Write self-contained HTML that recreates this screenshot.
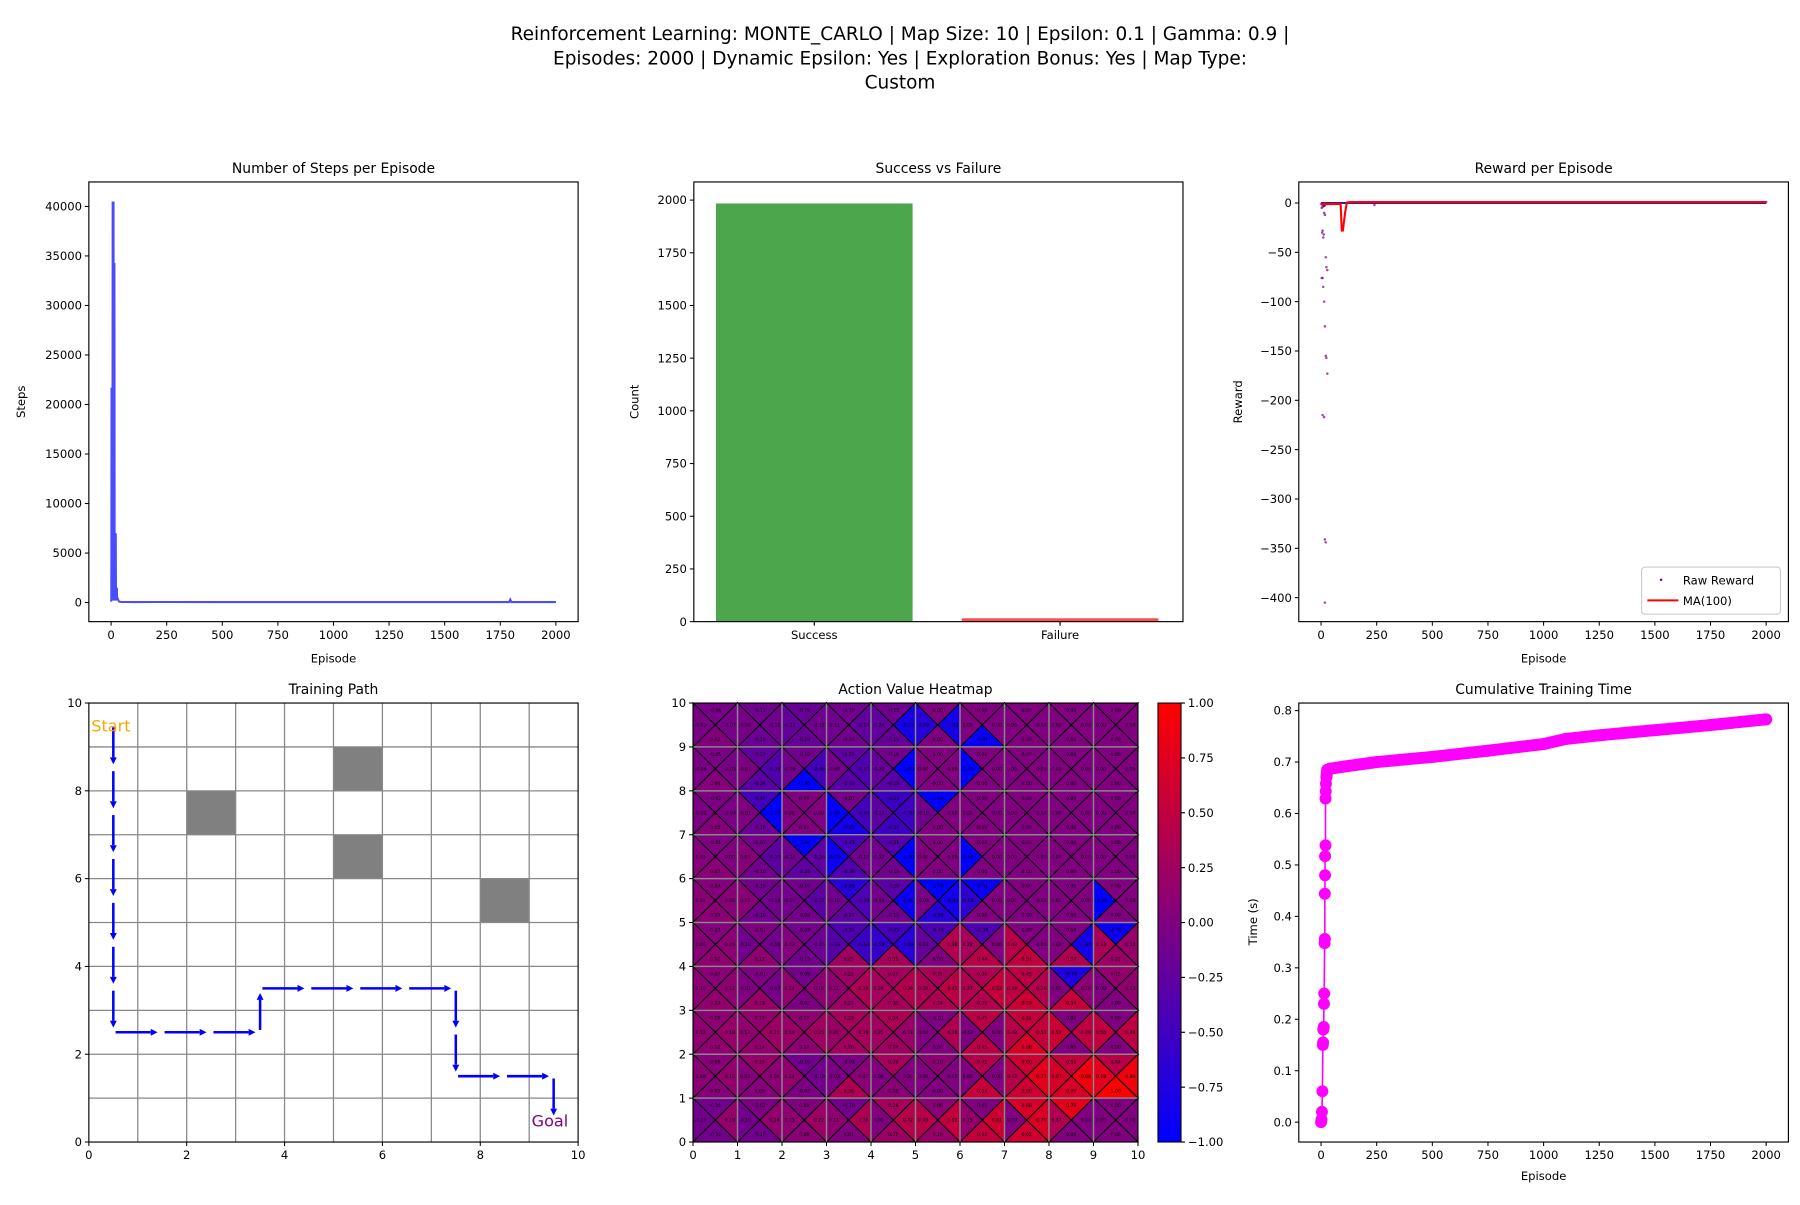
<!DOCTYPE html>
<html><head><meta charset="utf-8">
<style>
html,body{margin:0;padding:0;background:#fff;overflow:hidden;}
svg text{font-family:"DejaVu Sans","Liberation Sans",sans-serif;}
</style></head>
<body>
<svg id="fig" xmlns="http://www.w3.org/2000/svg" width="1800" height="1200" viewBox="0 0 1568 1045.3" preserveAspectRatio="none">
<rect x="0" y="0" width="1568" height="1046" fill="#fff"/>
<g font-size="16.1" text-anchor="middle" fill="#000">
<text x="784" y="35">Reinforcement Learning: MONTE_CARLO | Map Size: 10 | Epsilon: 0.1 | Gamma: 0.9 |</text>
<text x="784" y="56">Episodes: 2000 | Dynamic Epsilon: Yes | Exploration Bonus: Yes | Map Type:</text>
<text x="784" y="77">Custom</text>
</g>
</svg>
<script>
// ---------- data ----------
const stepsEp = [0,1,2,3,4,5,6,7,8,9,10,11,12,13,14,15,16,17,18,19,20,21,22,23,24,25,26,27,28,30,33,36,40,45,50,100,200,500,1000,1500,1790,1795,1800,2000];
const stepsVal = [100,300,21700,500,21700,800,200,40500,300,40500,600,40500,400,34300,200,34300,500,3000,200,7000,300,7000,200,1500,400,300,1500,400,400,400,200,100,80,60,60,50,60,50,50,50,50,300,50,50];

const outcomeLabels = ["Success","Failure"];
const outcomeCounts = [1984,16];

const rawEp = [1,3,5,7,10,12,14,17,21,24,28,3,7,10,14,17,21,24,28,7,14,17,21,17,12,7,14,14,7,7,10,17,14,14,30,40,50,70,240,2000];
const rawReward = [-1,-5,-30,-28,-35,-32,-10,-12,-55,-65,-68,-76,-76,-85,-100,-125,-155,-157,-173,-215,-217,-341,-344,-405,-2,-1,-3,-1,-2,-4,-1,-2,-1,-3,-1,-1,-1,-1,-2,1];
const maEp = [0,88,93,98,108,116,130,2000];
const maVal = [-1,-1,-28,-28,-10,0.5,1,1];
const rawLineEp = [0,2000];
const rawLineVal = [0,0];

const timeEp = [0,2,4,6,8,9,10,12,13,14,16,17,17,18,18,20,20,21,22,24,28,40,100,250,500,750,1000,1100,1250,1500,1750,2000];
const timeVal = [0,0.005,0.02,0.06,0.15,0.155,0.18,0.185,0.23,0.25,0.348,0.356,0.444,0.48,0.517,0.538,0.629,0.643,0.658,0.671,0.685,0.687,0.691,0.70,0.71,0.722,0.735,0.745,0.752,0.762,0.772,0.783];

const obstacles = [[2,7],[5,8],[5,6],[8,5]];
const pathX = [0.5,0.5,0.5,0.5,0.5,0.5,0.5,0.5,1.5,2.5,3.5,3.5,4.5,5.5,6.5,7.5,7.5,7.5,8.5,9.5,9.5];
const pathY = [9.5,8.5,7.5,6.5,5.5,4.5,3.5,2.5,2.5,2.5,2.5,3.5,3.5,3.5,3.5,3.5,2.5,1.5,1.5,1.5,0.5];

// Q values, rows from y=9 (top) to y=0
const qUp = [
[-0.06,-0.11,-0.19,-0.10,-0.12,0,0,0,0,0],
[-0.05,-0.23,-0.10,-0.25,-0.10,0,0,0,0,0],
[-0.02,-0.46,0,-0.07,-0.53,-1.00,0,0,0,0],
[-0.01,-0.07,-1.00,-0.43,-0.31,0,0,0,0,0],
[0.04,-0.10,-0.10,-0.69,-0.29,-1.00,-0.91,0,0,0],
[0.03,-0.01,-0.09,-0.38,-0.45,-0.40,-0.38,0,0,-0.91],
[0.07,-0.01,-0.09,0.22,0.27,0.31,0.36,0.45,-0.76,0.15],
[0.10,0.15,0.12,0.29,0.34,-0.01,0.45,0.52,0,0],
[0.06,0.18,-0.10,-0.03,0.29,0.10,0.41,0.60,0.52,0.44],
[-0.10,-0.02,0,-0.10,0.28,0.08,0,0.68,0.79,0]];
const qLeft = [
[-0.05,-0.06,-0.21,-0.11,-0.24,-0.69,0,0,0,0],
[-0.04,-0.02,-0.09,-0.09,-0.20,0,-1.00,0,0,0],
[-0.03,-0.01,0,-1.00,-0.27,-0.10,0,0,0,0],
[0.03,0.05,-0.10,-0.91,-0.10,0,-1.00,0,0,0],
[0.07,0.07,-0.09,-0.10,-0.09,-0.04,-0.63,0,0,-1.00],
[0.06,-0.10,0.03,-0.33,-0.58,-0.21,0.28,0.43,0,0.33],
[0.10,-0.01,0.14,0.11,0.29,0.34,0.37,0.48,0,0],
[0.12,0.13,0.19,0.20,0.25,0,-0.02,0.42,0.59,0.50],
[0.09,0.04,0.14,-0.03,0,0,0,0.42,0.67,0.78],
[-0.10,-0.10,0.11,0.11,0,0.43,0.15,0,0.37,0]];
const qRight = [
[-0.07,-0.11,-0.12,-0.24,-0.83,-0.83,0,0,0,0],
[-0.05,-0.36,-0.46,-0.37,-1.00,0,0,0,0,0],
[-0.04,-1.00,0,-0.46,-0.50,0,0,0,0,0],
[0,-0.27,-0.26,-0.10,-1.00,0,0,0,0,0],
[0.06,-0.10,-0.27,-0.39,-0.91,-0.83,0,0,0,0],
[0.09,-0.10,-0.15,-0.53,-0.69,0.38,0,0,-0.83,0.18],
[0.12,-0.07,0.10,0.34,0.39,0.45,0.52,0.39,0.10,0.13],
[0.18,0.21,0.25,0.29,0.18,0.36,0,0.53,0.48,0.48],
[0.15,0.09,-0.10,0.07,0,0,0,0.77,0.88,0.89],
[0.16,0.14,0.22,0.36,0.42,0.52,0.61,0.70,0,0]];
const qDown = [
[0.02,-0.16,-0.19,-0.10,-0.19,0,-0.91,0,0,0],
[0.04,-0.29,-1.00,-0.31,-0.29,0,0,0,0,0],
[0.05,-0.16,0,-0.83,-0.50,0,0,0,0,0],
[0.07,-0.10,-0.26,-0.36,-0.10,0,0,0,0,0],
[0.09,-0.10,-0.09,-0.25,-0.10,-0.69,0,0,0,0],
[0.12,0.12,-0.10,0.25,0.31,0,0.44,0.51,0.37,0.21],
[0.14,0.18,-0.02,0.22,0.30,0.34,0.39,0.59,0.54,0],
[0.12,0.14,0.10,0.26,0.24,0,0.45,0.68,0,0],
[0.05,0.05,-0.02,0.36,0.08,0,0.54,0.60,0.69,1.00],
[-0.10,-0.10,0.08,0.01,0.21,0.19,0.52,0.62,0,0]];

const epTicks = [0,250,500,750,1000,1250,1500,1750,2000];
const stepTicks = [0,5000,10000,15000,20000,25000,30000,35000,40000];
const countTicks = [0,250,500,750,1000,1250,1500,1750,2000];
const rewardTicks = [0,-50,-100,-150,-200,-250,-300,-350,-400];
const timeTicks = [0,0.1,0.2,0.3,0.4,0.5,0.6,0.7,0.8];
const gridTicks = [0,2,4,6,8,10];
const heatTicks = [0,1,2,3,4,5,6,7,8,9,10];
const cbarTicks = [1,0.75,0.5,0.25,0,-0.25,-0.5,-0.75,-1];

// ---------- helpers ----------
const NS = "http://www.w3.org/2000/svg";
const fig = document.getElementById('fig');
function mk(parent, tag, attrs, name, inter) {
  const e = document.createElementNS(NS, tag);
  for (const k in attrs) e.setAttribute(k, attrs[k]);
  
  
  parent.appendChild(e);
  return e;
}
function txt(parent, x, y, s, name, opts) {
  const o = Object.assign({'font-size': 10.1, 'text-anchor': 'middle', fill: '#000'}, opts || {});
  o.x = x; o.y = y;
  const t = mk(parent, 'text', o, name, false);
  t.textContent = s;
  return t;
}
function lin(d0, d1, p0, p1) { return v => p0 + (v - d0) * (p1 - p0) / (d1 - d0); }
function panel(name, L, R, T, B, title) {
  const g = mk(fig, 'g', {}, name, false);
  txt(g, (L + R) / 2, T - 8, title, name + '-title', {'font-size': 12.1});
  return g;
}
function frame(g, name, L, R, T, B) {
  mk(g, 'rect', {x: L, y: T, width: R - L, height: B - T, fill: 'none', stroke: '#000', 'stroke-width': 1}, name + '-frame', false);
}
function xTicks(g, name, ticks, sx, B, fmt) {
  ticks.forEach(v => {
    const x = sx(v);
    mk(g, 'line', {x1: x, x2: x, y1: B, y2: B + 3.5, stroke: '#000', 'stroke-width': 0.9}, name + '-xtick', false);
    txt(g, x, B + 15, fmt ? fmt(v) : String(v), name + '-xtick-label');
  });
}
function yTicks(g, name, ticks, sy, L, fmt) {
  ticks.forEach(v => {
    const y = sy(v);
    mk(g, 'line', {x1: L - 3.5, x2: L, y1: y, y2: y, stroke: '#000', 'stroke-width': 0.9}, name + '-ytick', false);
    txt(g, L - 6, y + 3.6, fmt ? fmt(v) : String(v), name + '-ytick-label', {'text-anchor': 'end'});
  });
}
function minus(v) { return String(v).replace('-', '\u2212'); }
function ylabel(g, name, x, y, s) {
  txt(g, x, y, s, name, {transform: 'rotate(-90 ' + x + ' ' + y + ')'});
}

const TT = 158.5, TB = 541.5, BT = 612.4, BB = 994.8;
const C1L = 77.4, C1R = 503.6, C2L = 604.4, C2R = 1030.5, C3L = 1131.4, C3R = 1557.9;

// ---------- Panel 1: steps ----------
(function () {
  const L = C1L, R = C1R, T = TT, B = TB;
  const g = panel('steps-chart', L, R, T, B, 'Number of Steps per Episode');
  const sx = lin(-100, 2100, L, R), sy = lin(-1926, 42470, B, T);
  const pts = stepsEp.map((e, i) => sx(e).toFixed(2) + ',' + sy(stepsVal[i]).toFixed(2)).join(' ');
  mk(g, 'polyline', {points: pts, fill: 'none', stroke: 'blue', 'stroke-opacity': 0.7, 'stroke-width': 1.8}, 'steps-line', false);
  frame(g, 'steps', L, R, T, B);
  xTicks(g, 'steps', epTicks, sx, B);
  yTicks(g, 'steps', stepTicks, sy, L);
  txt(g, (L + R) / 2, 577, 'Episode', 'steps-x-axis-title');
  ylabel(g, 'steps-y-axis-title', 22, 350, 'Steps');
})();

// ---------- Panel 2: success vs failure ----------
(function () {
  const L = C2L, R = C2R, T = TT, B = TB;
  const g = panel('outcome-chart', L, R, T, B, 'Success vs Failure');
  const sx = lin(-0.49, 1.5, L, R), sy = lin(0, 2086, B, T);
  const colors = ['#4ca64c', '#ff4c4c'];
  outcomeCounts.forEach((c, i) => {
    const x0 = sx(i - 0.4), x1 = sx(i + 0.4);
    mk(g, 'rect', {x: x0, y: sy(c), width: x1 - x0, height: sy(0) - sy(c), fill: colors[i]}, 'bar-' + outcomeLabels[i].toLowerCase(), false);
  });
  frame(g, 'outcome', L, R, T, B);
  outcomeLabels.forEach((lab, i) => {
    const x = sx(i);
    mk(g, 'line', {x1: x, x2: x, y1: B, y2: B + 3.5, stroke: '#000'}, 'outcome-xtick', false);
    txt(g, x, B + 15, lab, 'outcome-xtick-label');
  });
  yTicks(g, 'outcome', countTicks, sy, L);
  ylabel(g, 'outcome-y-axis-title', 556, 350, 'Count');
})();

// ---------- Panel 3: reward ----------
(function () {
  const L = C3L, R = C3R, T = TT, B = TB;
  const g = panel('reward-chart', L, R, T, B, 'Reward per Episode');
  const sx = lin(-100, 2100, L, R), sy = lin(-424.3, 21.3, B, T);
  mk(g, 'polyline', {points: rawLineEp.map((e, i) => sx(e) + ',' + sy(rawLineVal[i])).join(' '), fill: 'none', stroke: '#3a1a9a', 'stroke-width': 1.8}, 'raw-reward-line', false);
  rawEp.forEach((e, i) => {
    mk(g, 'circle', {cx: sx(e), cy: sy(rawReward[i]), r: 1.1, fill: 'purple', 'fill-opacity': 0.7}, 'raw-reward-point', false);
  });
  mk(g, 'polyline', {points: maEp.map((e, i) => sx(e).toFixed(2) + ',' + sy(maVal[i]).toFixed(2)).join(' '), fill: 'none', stroke: 'red', 'stroke-width': 1.8}, 'moving-average-line', false);
  frame(g, 'reward', L, R, T, B);
  xTicks(g, 'reward', epTicks, sx, B);
  yTicks(g, 'reward', rewardTicks, sy, L, minus);
  txt(g, (L + R) / 2, 577, 'Episode', 'reward-x-axis-title');
  ylabel(g, 'reward-y-axis-title', 1082, 350, 'Reward');
  const lg = mk(g, 'g', {}, 'reward-legend', false);
  mk(lg, 'rect', {x: 1430, y: 494, width: 121, height: 41, rx: 3, fill: '#fff', 'fill-opacity': 0.8, stroke: '#ccc'}, 'legend-box', false);
  mk(lg, 'circle', {cx: 1447, cy: 505, r: 1.1, fill: 'purple'}, 'legend-raw-marker', false);
  txt(lg, 1466, 509, 'Raw Reward', 'legend-raw-label', {'text-anchor': 'start'});
  mk(lg, 'line', {x1: 1435, x2: 1462, y1: 523, y2: 523, stroke: 'red', 'stroke-width': 1.8}, 'legend-ma-line', false);
  txt(lg, 1466, 527, 'MA(100)', 'legend-ma-label', {'text-anchor': 'start'});
})();

// ---------- Panel 4: training path ----------
(function () {
  const L = C1L, R = C1R, T = BT, B = BB;
  const g = panel('path-chart', L, R, T, B, 'Training Path');
  const sx = lin(0, 10, L, R), sy = lin(0, 10, B, T);
  obstacles.forEach(o => {
    mk(g, 'rect', {x: sx(o[0]), y: sy(o[1] + 1), width: sx(1) - sx(0), height: sy(0) - sy(1), fill: '#808080'}, 'obstacle-cell', false);
  });
  for (let i = 1; i < 10; i++) {
    mk(g, 'line', {x1: sx(i), x2: sx(i), y1: T, y2: B, stroke: '#888', 'stroke-width': 1.1}, 'grid-line-v', false);
    mk(g, 'line', {x1: L, x2: R, y1: sy(i), y2: sy(i), stroke: '#888', 'stroke-width': 1.1}, 'grid-line-h', false);
  }
  for (let i = 0; i < pathX.length - 1; i++) {
    const x0 = sx(pathX[i]), y0 = sy(pathY[i]), x1 = sx(pathX[i + 1]), y1 = sy(pathY[i + 1]);
    const dx = x1 - x0, dy = y1 - y0, len = Math.hypot(dx, dy), ux = dx / len, uy = dy / len;
    const ex = x0 + ux * (len - 4), ey = y0 + uy * (len - 4);
    const hx = ex - ux * 6, hy = ey - uy * 6;
    mk(g, 'line', {x1: x0 + ux * 2, y1: y0 + uy * 2, x2: hx, y2: hy, stroke: 'blue', 'stroke-width': 2.2}, 'path-arrow-shaft', false);
    const px = -uy * 3, py = ux * 3;
    mk(g, 'polygon', {points: `${ex},${ey} ${hx + px},${hy + py} ${hx - px},${hy - py}`, fill: 'blue'}, 'path-arrow-head', false);
  }
  txt(g, sx(0.05), sy(9.35), 'Start', 'start-label', {'font-size': 14, fill: 'orange', 'text-anchor': 'start'});
  txt(g, sx(9.05), sy(0.35), 'Goal', 'goal-label', {'font-size': 14, fill: 'purple', 'text-anchor': 'start'});
  frame(g, 'path', L, R, T, B);
  xTicks(g, 'path', gridTicks, sx, B);
  yTicks(g, 'path', gridTicks, sy, L);
})();

// ---------- Panel 5: heatmap ----------
function qColor(v) {
  const t = (v + 1) / 2;
  let r, gg, b;
  if (t < 0.5) { const s = t / 0.5; r = 128 * s; gg = 0; b = 255 - 127 * s; }
  else { const s = (t - 0.5) / 0.5; r = 128 + 127 * s; gg = 0; b = 128 - 128 * s; }
  return `rgb(${Math.round(r)},${Math.round(gg)},${Math.round(b)})`;
}
(function () {
  const L = 603.7, R = 991.3, T = BT, B = BB;
  const g = panel('heatmap-chart', L, R, T, B, 'Action Value Heatmap');
  const sx = lin(0, 10, L, R), sy = lin(0, 10, B, T);
  for (let r = 0; r < 10; r++) {
    const yv = 9 - r;
    for (let c = 0; c < 10; c++) {
      const x0 = sx(c), x1 = sx(c + 1), xm = sx(c + 0.5), yT = sy(yv + 1), yB = sy(yv), ym = sy(yv + 0.5);
      const tris = [
        [qUp[r][c], `${x0},${yT} ${x1},${yT} ${xm},${ym}`, xm, sy(yv + 0.83), 'up'],
        [qLeft[r][c], `${x0},${yT} ${x0},${yB} ${xm},${ym}`, sx(c + 0.17), ym, 'left'],
        [qRight[r][c], `${x1},${yT} ${x1},${yB} ${xm},${ym}`, sx(c + 0.83), ym, 'right'],
        [qDown[r][c], `${x0},${yB} ${x1},${yB} ${xm},${ym}`, xm, sy(yv + 0.17), 'down']];
      tris.forEach(t => {
        mk(g, 'polygon', {points: t[1], fill: qColor(t[0]), stroke: '#000', 'stroke-width': 0.9}, 'q-triangle-' + t[4], false);
      });
      tris.forEach(t => {
        txt(g, t[2], t[3] + 1.4, t[0].toFixed(2), 'q-value-label', {'font-size': 4});
      });
    }
  }
  for (let i = 1; i < 10; i++) {
    mk(g, 'line', {x1: sx(i), x2: sx(i), y1: T, y2: B, stroke: '#888', 'stroke-width': 1.3}, 'heatmap-grid-v', false);
    mk(g, 'line', {x1: L, x2: R, y1: sy(i), y2: sy(i), stroke: '#888', 'stroke-width': 1.3}, 'heatmap-grid-h', false);
  }
  frame(g, 'heatmap', L, R, T, B);
  xTicks(g, 'heatmap', heatTicks, sx, B);
  yTicks(g, 'heatmap', heatTicks, sy, L);
  const cg = mk(g, 'g', {}, 'colorbar', false);
  const defs = mk(cg, 'defs', {}, 'colorbar-defs', false);
  const lg = mk(defs, 'linearGradient', {id: 'cbg', x1: 0, y1: 0, x2: 0, y2: 1}, 'colorbar-gradient', false);
  mk(lg, 'stop', {offset: '0', 'stop-color': qColor(1)}, 'gradient-stop', false);
  mk(lg, 'stop', {offset: '0.5', 'stop-color': qColor(0)}, 'gradient-stop', false);
  mk(lg, 'stop', {offset: '1', 'stop-color': qColor(-1)}, 'gradient-stop', false);
  const CL = 1008.7, CR = 1028.8;
  mk(cg, 'rect', {x: CL, y: T, width: CR - CL, height: B - T, fill: 'url(#cbg)', stroke: '#000', 'stroke-width': 0.9}, 'colorbar-bar', false);
  const cy = lin(-1, 1, B, T);
  cbarTicks.forEach(v => {
    mk(cg, 'line', {x1: CR, x2: CR + 3.5, y1: cy(v), y2: cy(v), stroke: '#000'}, 'colorbar-tick', false);
    txt(cg, CR + 6, cy(v) + 3.6, minus(v.toFixed(2)), 'colorbar-tick-label', {'text-anchor': 'start'});
  });
})();

// ---------- Panel 6: cumulative time ----------
(function () {
  const L = C3L, R = C3R, T = BT, B = BB;
  const g = panel('time-chart', L, R, T, B, 'Cumulative Training Time');
  const sx = lin(-100, 2100, L, R), sy = lin(0, 0.8, 977.5, 619);
  const pts = timeEp.map((e, i) => sx(e).toFixed(2) + ',' + sy(timeVal[i]).toFixed(2));
  const late = timeEp.map((e, i) => e >= 24 ? sx(e).toFixed(2) + ',' + sy(timeVal[i]).toFixed(2) : null).filter(p => p);
  mk(g, 'polyline', {points: late.join(' '), fill: 'none', stroke: 'magenta', 'stroke-width': 10.4, 'stroke-linecap': 'round', 'stroke-linejoin': 'round'}, 'time-band', false);
  mk(g, 'polyline', {points: pts.join(' '), fill: 'none', stroke: 'magenta', 'stroke-width': 1.4}, 'time-line', false);
  timeEp.forEach((e, i) => {
    mk(g, 'circle', {cx: sx(e), cy: sy(timeVal[i]), r: 5.2, fill: 'magenta'}, 'time-point', false);
  });
  frame(g, 'time', L, R, T, B);
  xTicks(g, 'time', epTicks, sx, B);
  yTicks(g, 'time', timeTicks, sy, L, v => v.toFixed(1));
  txt(g, (L + R) / 2, 1028, 'Episode', 'time-x-axis-title');
  ylabel(g, 'time-y-axis-title', 1095, 803, 'Time (s)');
})();
</script>
</body></html>
